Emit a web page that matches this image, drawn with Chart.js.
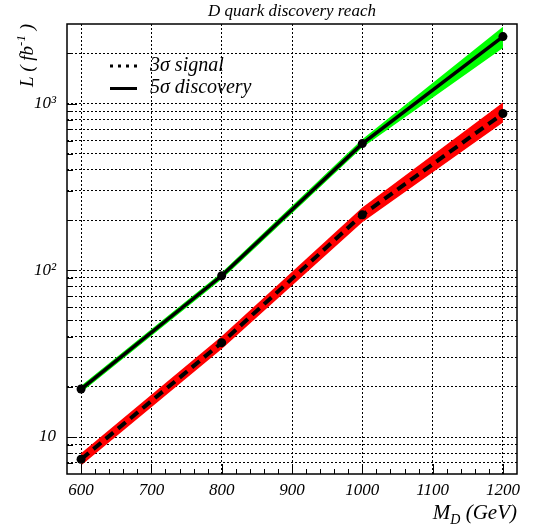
<!DOCTYPE html>
<html>
<head>
<meta charset="utf-8">
<script src="https://cdn.jsdelivr.net/npm/chart.js@4"></script>
<style>
  html, body { margin: 0; padding: 0; background: #fff; }
  canvas { display: block; }
</style>
</head>
<body>
<canvas id="reachChart" width="533" height="525"></canvas>
<script>
// D quark mass points (GeV)
const masses = [600, 800, 1000, 1200];

// 5 sigma discovery luminosity (fb^-1) and its band
const discovery5 = [19.4, 92.7, 575, 2520];
const discovery5Up = [20.3, 97, 610, 2890];
const discovery5Down = [18.5, 88.5, 545, 2150];

// 3 sigma signal luminosity (fb^-1) and its band
const signal3 = [7.35, 36.8, 215, 871];
const signal3Up = [8.0, 40.2, 238, 1014];
const signal3Down = [6.75, 33.7, 194, 769];

// axis ticks
const xMajorTicks = [600, 700, 800, 900, 1000, 1100, 1200];
const xMinorStep = 20;
const yGridValues = [7, 8, 9, 10, 20, 30, 40, 50, 60, 70, 80, 90,
    100, 200, 300, 400, 500, 600, 700, 800, 900, 1000, 2000];
const yLabelValues = [10, 100, 1000];
const yLabelTexts = ['10', '10²', '10³'];

const serif = 'Liberation Serif, Times New Roman, serif';

function points(ys) {
    return masses.map((m, i) => ({ x: m, y: ys[i] }));
}

// draws pieces [text, size, raise] one after another from (x, y)
function drawPieces(ctx, pieces, x, y) {
    pieces.forEach(p => {
        ctx.font = 'italic ' + p[1] + 'px ' + serif;
        ctx.fillText(p[0], x, y - p[2]);
        x += ctx.measureText(p[0]).width;
    });
}

function piecesWidth(ctx, pieces) {
    let w = 0;
    pieces.forEach(p => {
        ctx.font = 'italic ' + p[1] + 'px ' + serif;
        w += ctx.measureText(p[0]).width;
    });
    return w;
}

const framePlugin = {
    id: 'frame',
    afterDraw(chart) {
        const ctx = chart.ctx;
        const a = chart.chartArea;
        const xs = chart.scales.x;
        const ys = chart.scales.y;
        ctx.save();
        ctx.setLineDash([]);
        ctx.strokeStyle = '#000';
        ctx.lineWidth = 1;

        // inward tick marks
        ctx.beginPath();
        xs.ticks.forEach(t => {
            const px = Math.round(xs.getPixelForValue(t.value)) + 0.5;
            const len = xMajorTicks.includes(t.value) ? 10 : 5;
            ctx.moveTo(px, a.bottom);
            ctx.lineTo(px, a.bottom - len);
        });
        ys.ticks.forEach(t => {
            const py = Math.round(ys.getPixelForValue(t.value)) + 0.5;
            const len = yLabelValues.includes(t.value) ? 10 : 6;
            ctx.moveTo(a.left, py);
            ctx.lineTo(a.left + len, py);
        });
        ctx.stroke();

        // frame
        ctx.lineWidth = 1.5;
        ctx.strokeRect(a.left, a.top, a.right - a.left, a.bottom - a.top);

        ctx.fillStyle = '#000';
        ctx.textBaseline = 'alphabetic';
        ctx.textAlign = 'left';

        // x axis title with subscript
        const xTitle = [['M', 21, 0], ['D', 14, -5], [' (GeV)', 21, 0]];
        drawPieces(ctx, xTitle, a.right - piecesWidth(ctx, xTitle), 519);

        // y axis title with superscript, rotated
        const yTitle = [['L ( fb', 19, 0], ['-1', 13, 8], [' )', 19, 0]];
        const yw = piecesWidth(ctx, yTitle);
        ctx.save();
        ctx.translate(33, a.top + yw);
        ctx.rotate(-Math.PI / 2);
        drawPieces(ctx, yTitle, 0, 0);
        ctx.restore();

        // legend
        const lx0 = 110, lx1 = 138;
        ctx.lineWidth = 3;
        ctx.setLineDash([3, 5]);
        ctx.beginPath();
        ctx.moveTo(lx0, 66);
        ctx.lineTo(lx1, 66);
        ctx.stroke();
        ctx.setLineDash([]);
        ctx.beginPath();
        ctx.moveTo(lx0, 88.5);
        ctx.lineTo(lx1 - 1, 88.5);
        ctx.stroke();
        ctx.font = 'italic 20px ' + serif;
        ctx.textBaseline = 'middle';
        ctx.fillText('3σ signal', 150, 66);
        ctx.fillText('5σ discovery', 150, 88);
        ctx.restore();
    }
};

const ctx = document.getElementById('reachChart').getContext('2d');
new Chart(ctx, {
    type: 'line',
    data: {
        datasets: [
            {
                label: '5σ band up',
                data: points(discovery5Up),
                borderWidth: 0,
                pointRadius: 0,
                backgroundColor: '#00ff00',
                fill: '+1',
                order: 5
            },
            {
                label: '5σ band down',
                data: points(discovery5Down),
                borderWidth: 0,
                pointRadius: 0,
                fill: false,
                order: 5
            },
            {
                label: '3σ band up',
                data: points(signal3Up),
                borderWidth: 0,
                pointRadius: 0,
                backgroundColor: '#ff0000',
                fill: '+1',
                order: 4
            },
            {
                label: '3σ band down',
                data: points(signal3Down),
                borderWidth: 0,
                pointRadius: 0,
                fill: false,
                order: 4
            },
            {
                label: '5σ discovery',
                data: points(discovery5),
                borderColor: '#000',
                borderWidth: 3.5,
                pointRadius: 4.5,
                pointBackgroundColor: '#000',
                pointBorderWidth: 0,
                fill: false,
                order: 1
            },
            {
                label: '3σ signal',
                data: points(signal3),
                borderColor: '#000',
                borderWidth: 4,
                borderDash: [10, 6],
                pointRadius: 4.5,
                pointBackgroundColor: '#000',
                pointBorderWidth: 0,
                fill: false,
                order: 1
            }
        ]
    },
    options: {
        responsive: false,
        animation: false,
        devicePixelRatio: 1,
        layout: {
            padding: { left: 0, right: 16, top: 0, bottom: 0 }
        },
        plugins: {
            legend: { display: false },
            tooltip: { enabled: false },
            title: {
                display: true,
                fullSize: false,
                text: 'D quark discovery reach',
                color: '#000',
                font: { family: serif, size: 17, style: 'italic', weight: 'normal' },
                padding: { top: 1, bottom: 2.6 }
            }
        },
        scales: {
            x: {
                type: 'linear',
                min: 580,
                max: 1220,
                afterBuildTicks: scale => {
                    const ticks = [];
                    for (let v = xMajorTicks[0]; v <= xMajorTicks[xMajorTicks.length - 1]; v += xMinorStep) {
                        ticks.push({ value: v });
                    }
                    scale.ticks = ticks;
                },
                afterFit: scale => { scale.height = 51; },
                ticks: {
                    autoSkip: false,
                    maxRotation: 0,
                    padding: 6,
                    color: '#000',
                    font: { family: serif, size: 17, style: 'italic' },
                    callback: v => xMajorTicks.includes(v) ? String(v) : ''
                },
                grid: {
                    drawTicks: false,
                    lineWidth: 1,
                    color: c => (c.tick && xMajorTicks.includes(c.tick.value)) ? '#000' : 'rgba(0,0,0,0)'
                },
                border: { display: false, dash: [2, 2] }
            },
            y: {
                type: 'logarithmic',
                min: 6,
                max: 3000,
                afterBuildTicks: scale => {
                    scale.ticks = yGridValues.map(v => ({ value: v }));
                },
                afterFit: scale => { scale.width = 67; },
                ticks: {
                    autoSkip: false,
                    padding: 11,
                    color: '#000',
                    font: { family: serif, size: 17, style: 'italic' },
                    callback: v => {
                        const i = yLabelValues.indexOf(v);
                        return i >= 0 ? yLabelTexts[i] : '';
                    }
                },
                grid: {
                    drawTicks: false,
                    lineWidth: 1,
                    color: '#000'
                },
                border: { display: false, dash: [2, 2] }
            }
        }
    },
    plugins: [framePlugin]
});
</script>
</body>
</html>
